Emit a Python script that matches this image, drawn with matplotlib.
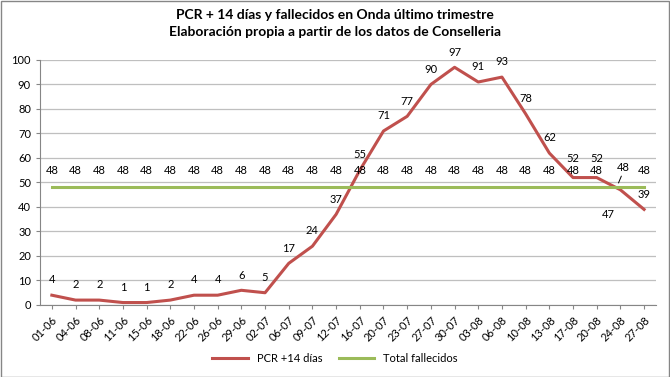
import matplotlib
matplotlib.use("Agg")
import matplotlib.pyplot as plt

categories = ["01-06", "04-06", "08-06", "11-06", "15-06", "18-06", "22-06", "26-06",
              "29-06", "02-07", "06-07", "09-07", "12-07", "16-07", "20-07", "23-07",
              "27-07", "30-07", "03-08", "06-08", "10-08", "13-08", "17-08", "20-08",
              "24-08", "27-08"]
pcr_14 = [4, 2, 2, 1, 1, 2, 4, 4, 6, 5, 17, 24, 37, 55, 71, 77, 90, 97, 91, 93, 78, 62,
          52, 52, 47, 39]
fallecidos = [48] * len(categories)

title = "PCR + 14 días y fallecidos en Onda último trimestre\nElaboración propia a partir de los datos de Conselleria"

plt.rcParams['font.family'] = ['Lato', 'DejaVu Sans']

fig = plt.figure(figsize=(6.7, 3.77), dpi=100)
ax = fig.add_axes([0.0597, 0.191, 0.9193, 0.65])

red = "#C0504D"
green = "#9BBB59"
x = list(range(len(categories)))

ax.plot(x, pcr_14, color=red, lw=2.2, label="PCR +14 días", zorder=3)
ax.plot(x, fallecidos, color=green, lw=2.2, label="Total fallecidos", zorder=3)

ax.set_xlim(-0.5, len(categories) - 0.5)
ax.set_ylim(0, 100)
ax.set_yticks(range(0, 101, 10))
ax.set_xticks(x)
ax.set_xticklabels(categories, rotation=45, ha="right", va="top", fontsize=8,
                   rotation_mode="anchor")
ax.tick_params(axis="y", labelsize=8, length=3, color="#868686")
ax.tick_params(axis="x", length=3, color="#868686")
ax.grid(axis="y", color="#BFBFBF", lw=0.9)
ax.set_axisbelow(True)
for s in ["top", "right"]:
    ax.spines[s].set_visible(False)
for s in ["left", "bottom"]:
    ax.spines[s].set_color("#868686")

# data labels
for i, v in enumerate(pcr_14):
    if categories[i] == "24-08":
        ax.annotate(str(v), (i, v), xytext=(-9, -18), textcoords="offset points",
                    ha="center", va="center", fontsize=8)
    elif v in (52,):
        ax.annotate(str(v), (i, v), xytext=(0, 14), textcoords="offset points",
                    ha="center", va="center", fontsize=8)
    else:
        ax.annotate(str(v), (i, v), xytext=(0, 11), textcoords="offset points",
                    ha="center", va="center", fontsize=8)
for i, v in enumerate(fallecidos):
    if categories[i] == "24-08":
        ax.annotate(str(v), (i, v), xytext=(2, 14), textcoords="offset points",
                    ha="center", va="center", fontsize=8)
        ax.annotate("", xy=(i - 0.08, v + 1.8), xytext=(i + 0.04, v + 4.6),
                    arrowprops=dict(arrowstyle="-", color="black", lw=0.7,
                                    shrinkA=0, shrinkB=0))
    else:
        ax.annotate(str(v), (i, v), xytext=(0, 12), textcoords="offset points",
                    ha="center", va="center", fontsize=8)

fig.suptitle(title, y=0.975, fontsize=10, fontweight="bold", linespacing=1.5)

fig.legend(loc="center", bbox_to_anchor=(0.5, 0.05), ncol=2, frameon=False,
           fontsize=8, handlelength=3.2, columnspacing=1.5)

fig.patches.append(plt.Rectangle((0.001, 0.001), 0.997, 0.997, transform=fig.transFigure,
                                 fill=False, edgecolor="#868686", lw=1))

fig.savefig("out.png", dpi=100)
